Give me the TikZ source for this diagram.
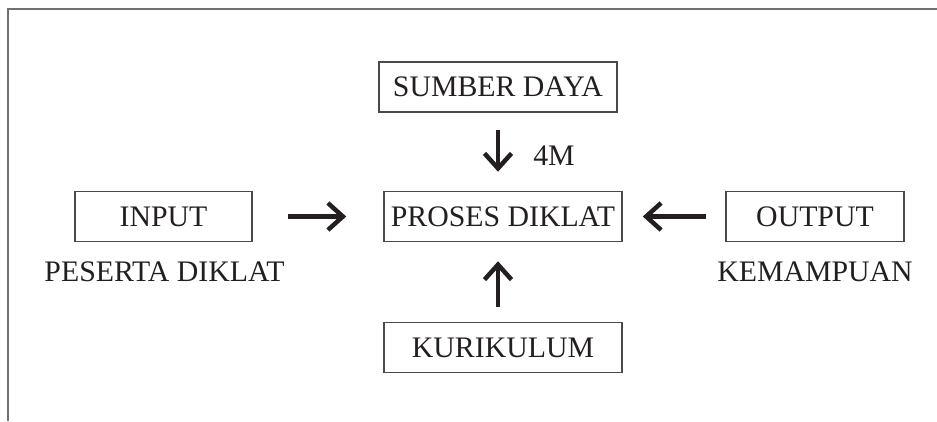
\documentclass[tikz,border=0pt]{standalone}
\usepackage{fontspec}
\setmainfont{Liberation Serif}
\usetikzlibrary{arrows.meta}
\definecolor{framegray}{HTML}{707070}
\definecolor{boxgray}{HTML}{4A4A4A}
\definecolor{ink}{HTML}{231F20}
\tikzset{
  label text/.style={font=\fontsize{29.8}{31}\selectfont, text=ink, inner sep=0pt},
  stagebox/.style={label text, draw=boxgray, line width=1.5pt, minimum height=50pt},
  flow/.style={draw=ink, line width=4.5pt, -{Straight Barb[length=15pt, width=27pt, line width=4.5pt]}}
}
\begin{document}
\begin{tikzpicture}[x=1pt, y=-1pt]
  \useasboundingbox (0,0) rectangle (937,421);
  % open frame: top and left edges only
  \draw[framegray, line width=2.2pt] (7.7,421) -- (7.7,9.3) -- (937,9.3);

  % stage boxes
  \node[stagebox, minimum width=238pt] (sumber) at (498,87) {SUMBER DAYA};
  \node[stagebox, minimum width=238pt] (proses) at (503,216.5) {PROSES DIKLAT};
  \node[stagebox, minimum width=177pt] (input) at (163.5,216.5) {INPUT};
  \node[stagebox, minimum width=178pt] (output) at (815,216.5) {OUTPUT};
  \node[stagebox, minimum width=238pt] (kurikulum) at (503,347.5) {KURIKULUM};

  % captions
  \node[label text, anchor=base] (peserta) at (164.5,281) {PESERTA DIKLAT};
  \node[label text, anchor=base] (kemampuan) at (815,281) {KEMAMPUAN};
  \node[label text, anchor=base] (empatm) at (554,165) {4M};

  % flows into the training process
  \draw[flow, shorten <=35pt, shorten >=37pt] (input.east) -- (proses.west);
  \draw[flow, shorten <=19pt, shorten >=20pt] (output.west) -- (proses.east);
  \draw[flow, shorten <=17pt, shorten >=19pt] (sumber.south) -- (sumber.south |- proses.north);
  \draw[flow, shorten <=15pt, shorten >=19pt] (kurikulum.north -| sumber.south) -- (sumber.south |- proses.south);
\end{tikzpicture}
\end{document}
